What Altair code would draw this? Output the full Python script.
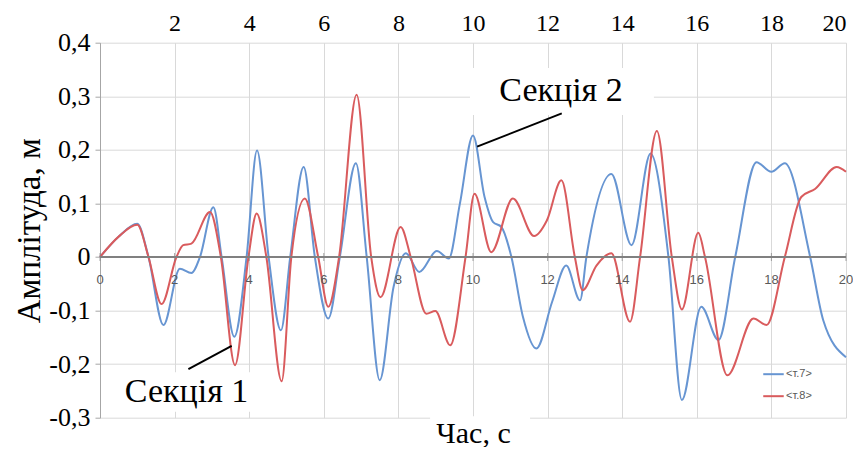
import altair as alt
import pandas as pd

# ---- data ----
t7 = [0, 0.5, 1.0, 1.3, 1.7, 2.14, 2.45, 2.68, 3.04, 3.26, 3.6, 3.93, 4.21, 4.52, 4.85,
      5.1, 5.46, 5.76, 6.12, 6.43, 6.86, 7.15, 7.5, 7.87, 8.2, 8.56, 9.03, 9.35, 9.65,
      10.0, 10.31, 10.54, 10.76, 11.03, 11.34, 11.7, 12.12, 12.5, 12.87, 13.04, 13.71,
      14.25, 14.76, 15.24, 15.6, 16.12, 16.58, 17.03, 17.6, 18.0, 18.36, 19.04, 19.39, 20.0]
v7 = [0, 0.038, 0.062, 0.0, -0.127, -0.022, -0.030, 0.0, 0.093, 0.0, -0.149, 0.0, 0.199, 0.0, -0.137,
      0.0, 0.168, 0.0, -0.115, 0.0, 0.175, 0.0, -0.230, -0.056, 0.007, -0.028, 0.011, -0.003, 0.100,
      0.227, 0.112, 0.065, 0.056, 0.0, -0.112, -0.171, -0.084, -0.016, -0.081, 0.0, 0.155,
      0.022, 0.193, 0.0, -0.267, -0.093, -0.155, 0.0, 0.177, 0.159, 0.175, 0.0, -0.118, -0.187]

t8 = [0, 0.5, 1.0, 1.3, 1.65, 2.05, 2.23, 2.45, 2.95, 3.24, 3.62, 3.98, 4.2, 4.46, 4.87,
      5.13, 5.49, 5.85, 6.12, 6.41, 6.88, 7.27, 7.52, 8.06, 8.33, 8.75, 8.99, 9.39, 9.8,
      10.04, 10.49, 11.07, 11.64, 11.98, 12.37, 12.73, 12.94, 13.31, 13.71, 14.21, 14.48,
      14.93, 15.33, 15.6, 16.04, 16.22, 16.82, 17.52, 17.87, 18.36, 18.8, 19.17, 19.75, 20.0]
v8 = [0, 0.038, 0.060, 0.0, -0.088, 0.0, 0.022, 0.025, 0.084, 0.0, -0.202, 0.0, 0.081, 0.0, -0.232,
      0.0, 0.109, 0.0, -0.093, 0.0, 0.303, 0.0, -0.075, 0.056, 0.0, -0.106, -0.101, -0.165, 0.0,
      0.118, 0.009, 0.109, 0.039, 0.068, 0.143, 0.0, -0.062, -0.016, 0.007, -0.121, 0.0,
      0.235, 0.0, -0.098, 0.045, 0.0, -0.221, -0.115, -0.127, 0.0, 0.112, 0.127, 0.168, 0.159]

series_names = ["<т.7>", "<т.8>"]
series_colors = ["#6795d2", "#d95b5d"]

x_ticks = [0, 2, 4, 6, 8, 10, 12, 14, 16, 18, 20]
y_ticks = [-0.3, -0.2, -0.1, 0.0, 0.1, 0.2, 0.3, 0.4]

# annotations (data coordinates)
ann_text = ["Секція 2", "Секція 1"]
ann_tx = [12.36, 2.32]
ann_ty = [0.291, -0.27]
lead_x1 = [10.11, 3.53]
lead_y1 = [0.206, -0.166]
lead_x2 = [12.38, 2.37]
lead_y2 = [0.268, -0.2095]
box_x1 = [9.92, 0.4, 8.85]
box_x2 = [14.85, 4.16, 11.53]
box_y1 = [0.265, -0.289, -0.3025]
box_y2 = [0.353, -0.215, -0.2975]

SERIF = "Liberation Serif"
SANS = "Liberation Sans"

df = pd.concat([
    pd.DataFrame({"t": t7, "v": v7, "s": series_names[0]}),
    pd.DataFrame({"t": t8, "v": v8, "s": series_names[1]}),
])
ticks_df = pd.DataFrame({"t": x_ticks, "v": [0.0] * len(x_ticks)})
ann_df = pd.DataFrame({"label": ann_text, "t": ann_tx, "v": ann_ty})
lead_df = pd.DataFrame({"x1": lead_x1, "y1": lead_y1, "x2": lead_x2, "y2": lead_y2})
box_df = pd.DataFrame({"x1": box_x1, "x2": box_x2, "y1": box_y1, "y2": box_y2})

xs = alt.Scale(domain=[0, 20], nice=False, zero=False)
ys = alt.Scale(domain=[-0.3, 0.4], nice=False, zero=False)

y_label_expr = ("datum.value == 0 ? '0' : (datum.value < 0 ? '-' : '') + "
                "replace(format(abs(datum.value), '.1f'), '.', ',')")

lines = alt.Chart(df).mark_line(interpolate="monotone", strokeWidth=2).encode(
    x=alt.X("t:Q", scale=xs, axis=alt.Axis(
        orient="top", values=x_ticks, grid=True, domain=False, ticks=False,
        labelExpr="datum.value == 0 ? '' : datum.label",
        labelFont=SERIF, labelFontSize=24, labelColor="black", labelPadding=7,
        gridColor="#d9d9d9", gridWidth=1, title=None)),
    y=alt.Y("v:Q", scale=ys, axis=alt.Axis(
        orient="left", values=y_ticks, grid=True, domain=True, ticks=True, tickSize=5,
        domainColor="#a6a6a6", tickColor="#a6a6a6", gridColor="#d9d9d9", gridWidth=1,
        labelExpr=y_label_expr, labelFont=SERIF, labelFontSize=26, labelColor="black",
        labelPadding=5, title="Амплітуда, м", titleFont=SERIF, titleFontSize=33,
        titleFontWeight="normal", titleColor="black", titlePadding=2)),
    color=alt.Color("s:N", scale=alt.Scale(domain=series_names, range=series_colors),
                    legend=alt.Legend(orient="none", legendX=662, legendY=320, title=None,
                                      symbolType="stroke", symbolSize=420, symbolStrokeWidth=2,
                                      labelFont=SANS, labelFontSize=11, labelColor="#595959",
                                      labelOffset=1, rowPadding=5, padding=0)),
    detail="s:N",
)

boxes = alt.Chart(box_df).mark_rect(color="white").encode(
    x=alt.X("x1:Q", scale=xs, axis=alt.Axis(
        orient="bottom", labels=False, ticks=False, domain=False, grid=False,
        title="Час, с", titleFont=SERIF, titleFontSize=30, titleFontWeight="normal",
        titleColor="black", titleBaseline="alphabetic", titleY=25)),
    x2="x2:Q",
    y=alt.Y("y1:Q", scale=ys, axis=None),
    y2="y2:Q",
)

zero_rule = alt.Chart(ticks_df).mark_rule(color="#808080", strokeWidth=2).encode(
    y=alt.Y("v:Q", scale=ys, axis=None),
)
zero_ticks = alt.Chart(ticks_df).mark_tick(color="#808080", thickness=1, size=8,
                                           orient="vertical").encode(
    x=alt.X("t:Q", scale=xs, axis=None),
    y=alt.Y("v:Q", scale=ys, axis=None),
)
zero_labels = alt.Chart(ticks_df).mark_text(font=SANS, fontSize=13, color="#595959",
                                            dy=23, align="center").encode(
    x=alt.X("t:Q", scale=xs, axis=None),
    y=alt.Y("v:Q", scale=ys, axis=None),
    text=alt.Text("t:Q", format="d"),
)

leads = alt.Chart(lead_df).mark_rule(color="black", strokeWidth=2).encode(
    x=alt.X("x1:Q", scale=xs, axis=None), x2="x2:Q",
    y=alt.Y("y1:Q", scale=ys, axis=None), y2="y2:Q",
)
ann = alt.Chart(ann_df).mark_text(font=SERIF, fontSize=34, color="black",
                                  align="center", baseline="alphabetic").encode(
    x=alt.X("t:Q", scale=xs, axis=None),
    y=alt.Y("v:Q", scale=ys, axis=None),
    text="label:N",
)

chart = alt.layer(lines, zero_rule, zero_ticks, zero_labels, boxes, leads, ann).resolve_axis(
    x="independent", y="independent"
).properties(
    width=746, height=375,
    autosize=alt.AutoSizeParams(type="none"),
    padding={"left": 92, "top": 34.7, "right": 7, "bottom": 29},
    background="white",
).configure_view(stroke=None)

chart.save("out.html", embed_options={"renderer": "svg", "actions": False})
